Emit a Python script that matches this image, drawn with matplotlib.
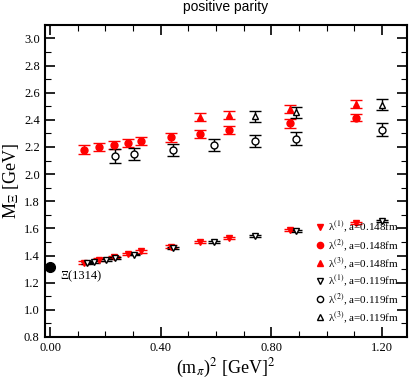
import matplotlib.pyplot as plt
from matplotlib.lines import Line2D
from matplotlib.ticker import MultipleLocator, FormatStrFormatter

# lambda(1), a=0.148fm  (lower band, red filled down triangles)
x_r = [0.122, 0.176, 0.231, 0.283, 0.330, 0.436, 0.541, 0.648, 0.869, 1.104]
y_r1 = [1.348, 1.370, 1.391, 1.411, 1.430, 1.466, 1.497, 1.531, 1.589, 1.642]
e_r1 = [0.008, 0.008, 0.008, 0.008, 0.008, 0.008, 0.008, 0.008, 0.008, 0.008]

# lambda(2), a=0.148fm
y_r2 = [2.181, 2.201, 2.217, 2.230, 2.245, 2.270, 2.296, 2.322, 2.373, 2.416]
e_r2 = [0.030, 0.028, 0.030, 0.030, 0.030, 0.032, 0.030, 0.030, 0.032, 0.028]

# lambda(3), a=0.148fm
x_r3 = [0.541, 0.648, 0.869, 1.104]
y_r3 = [2.419, 2.436, 2.478, 2.516]
e_r3 = [0.030, 0.030, 0.030, 0.030]

# lambda(1), a=0.119fm
x_b1 = [0.135, 0.157, 0.201, 0.235, 0.305, 0.446, 0.593, 0.741, 0.889, 1.201]
y_b1 = [1.346, 1.352, 1.368, 1.381, 1.407, 1.456, 1.499, 1.546, 1.581, 1.655]
e_b1 = [0.006, 0.006, 0.006, 0.006, 0.006, 0.006, 0.006, 0.006, 0.006, 0.006]

# lambda(2), a=0.119fm
x_b2 = [0.235, 0.305, 0.446, 0.593, 0.741, 0.889, 1.201]
y_b2 = [2.135, 2.150, 2.178, 2.213, 2.245, 2.262, 2.328]
e_b2 = [0.050, 0.045, 0.045, 0.045, 0.045, 0.045, 0.045]

# lambda(3), a=0.119fm
x_b3 = [0.741, 0.889, 1.201]
y_b3 = [2.427, 2.455, 2.510]
e_b3 = [0.040, 0.040, 0.040]

xi_x, xi_y = 0.0, 1.314

labels = ['λ$^{(1)}$, a=0.148fm', 'λ$^{(2)}$, a=0.148fm', 'λ$^{(3)}$, a=0.148fm',
          'λ$^{(1)}$, a=0.119fm', 'λ$^{(2)}$, a=0.119fm', 'λ$^{(3)}$, a=0.119fm']

plt.rcParams['font.family'] = ['Liberation Serif', 'DejaVu Serif']
plt.rcParams['mathtext.fontset'] = 'stix'

fig = plt.figure(figsize=(4.09, 3.82), dpi=100)
ax = fig.add_axes([0.109, 0.118, 0.886, 0.817])

kw = dict(linestyle='none', capsize=4, elinewidth=1.0, capthick=1.0, markersize=5)
series = [
    (x_r, y_r1, e_r1, 'v', 'red', 'red'),
    (x_r, y_r2, e_r2, 'o', 'red', 'red'),
    (x_r3, y_r3, e_r3, '^', 'red', 'red'),
    (x_b1, y_b1, e_b1, 'v', 'black', 'white'),
    (x_b2, y_b2, e_b2, 'o', 'black', 'white'),
    (x_b3, y_b3, e_b3, '^', 'black', 'white'),
]
handles = []
for (xs, ys, es, m, c, fc), lab in zip(series, labels):
    ax.errorbar(xs, ys, yerr=es, marker=m, color=c, mfc=fc, **kw)
    handles.append(Line2D([], [], linestyle='none', marker=m, color=c, mfc=fc,
                          markersize=4.5, label=lab))

ax.plot([xi_x], [xi_y], 'o', color='black', markersize=7)
ax.text(0.035, 1.25, 'Ξ(1314)', fontsize=9, va='center')

ax.set_xlim(-0.02, 1.29)
ax.set_ylim(0.8, 3.1)
ax.xaxis.set_major_locator(MultipleLocator(0.4))
ax.xaxis.set_minor_locator(MultipleLocator(0.1))
ax.yaxis.set_major_locator(MultipleLocator(0.2))
ax.yaxis.set_minor_locator(MultipleLocator(0.1))
ax.xaxis.set_major_formatter(FormatStrFormatter('%.2f'))
ax.yaxis.set_major_formatter(FormatStrFormatter('%.1f'))
ax.tick_params(which='both', direction='in', top=True, right=True, labelsize=9)
ax.tick_params(which='major', length=7, width=1.2)
ax.tick_params(which='minor', length=4, width=0.8)
for s in ax.spines.values():
    s.set_linewidth(1.5)

ax.set_xlabel(r'(m$_\pi$)$^2$ [GeV]$^2$', fontsize=13, labelpad=2)
ax.set_ylabel(r'M$_\Xi$ [GeV]', fontsize=13)
ax.yaxis.set_label_coords(-0.065, 0.5)
ax.set_title('positive parity', family='Liberation Sans', fontsize=10, pad=10)

ax.legend(handles=handles, loc='lower right', bbox_to_anchor=(0.99, 0.025),
          frameon=False, fontsize=8, handlelength=0.7, handletextpad=0.3,
          labelspacing=0.2, borderaxespad=0.0)

fig.savefig('out.png', dpi=100)
